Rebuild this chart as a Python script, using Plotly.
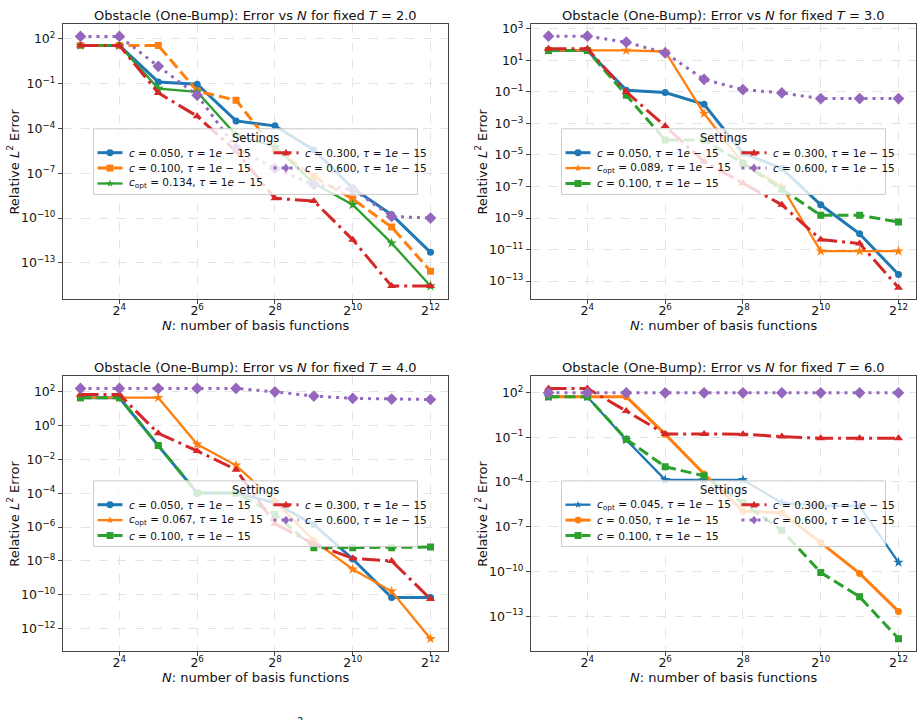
import math
import plotly.graph_objects as go

W, H = 923, 720

# ---------------- data ----------------
N = [8, 16, 32, 64, 128, 256, 512, 1024, 2048, 4096]
N_TICKVALS = [16, 64, 256, 1024, 4096]
N_TICKTEXT = ["2<sup>4</sup>", "2<sup>6</sup>", "2<sup>8</sup>", "2<sup>10</sup>", "2<sup>12</sup>"]
T_VALUES = ["2.0", "3.0", "4.0", "6.0"]

# T = 2.0
t2_labels = ["c050", "c100", "opt:0.134", "c300", "c600"]
t2_c050 = [36, 36, 1.3e-1, 9.1e-2, 3.2e-4, 1.5e-4, 3.6e-6, 1.0e-8, 1.7e-10, 5.1e-13]
t2_c100 = [36, 36, 36, 3.2e-2, 7.8e-3, 4.0e-6, 6.0e-8, 1.9e-9, 2.5e-11, 2.8e-14]
t2_copt = [36, 36, 4.7e-2, 2.8e-2, 3.6e-5, 6.0e-6, 2.1e-8, 7.8e-10, 2.1e-12, 2.8e-15]
t2_c300 = [36, 36, 2.4e-2, 6.6e-4, 3.0e-6, 2.1e-9, 1.4e-9, 3.6e-12, 2.8e-15, 2.8e-15]
t2_c600 = [145, 145, 1.45, 1.7e-2, 5.0e-6, 2.1e-7, 1.7e-8, 8.5e-9, 1.3e-10, 1.0e-10]

# T = 3.0
t3_labels = ["c050", "opt:0.089", "c100", "c300", "c600"]
t3_c050 = [43, 43, 1.3e-1, 9.1e-2, 1.66e-2, 1.3e-5, 1.4e-6, 6.9e-9, 1.0e-10, 2.6e-13]
t3_copt = [43, 43, 43, 37, 4.3e-3, 3.0e-6, 1.0e-7, 7.9e-12, 7.9e-12, 7.9e-12]
t3_c100 = [43, 43, 6.2e-2, 8.9e-5, 8.9e-5, 3.0e-6, 6.8e-8, 1.5e-9, 1.5e-9, 5.6e-10]
t3_c300 = [55, 55, 1.0e-1, 6.8e-4, 3.8e-6, 1.6e-7, 6.9e-9, 4.3e-11, 2.4e-11, 3.8e-14]
t3_c600 = [347, 347, 145, 30, 0.63, 0.14, 8.7e-2, 3.8e-2, 3.8e-2, 3.8e-2]

# T = 4.0
t4_labels = ["c050", "opt:0.067", "c100", "c300", "c600"]
t4_c050 = [45, 45, 6.6e-2, 1.05e-4, 1.05e-4, 2.7e-5, 1.4e-6, 1.3e-8, 6.9e-11, 6.9e-11]
t4_copt = [45, 45, 45, 7.9e-2, 4.5e-3, 3.4e-5, 1.6e-7, 3.2e-9, 1.6e-10, 2.5e-13]
t4_c100 = [45, 45, 6.6e-2, 1.05e-4, 1.05e-4, 5.6e-6, 6.0e-8, 6.0e-8, 6.0e-8, 6.6e-8]
t4_c300 = [69, 69, 0.35, 3.2e-2, 2.5e-3, 1.6e-6, 1.0e-7, 1.4e-8, 1.0e-8, 5.6e-11]
t4_c600 = [158, 158, 158, 158, 158, 100, 56, 41, 37, 35]

# T = 6.0
t6_labels = ["opt:0.045", "c050", "c100", "c300", "c600"]
t6_copt = [51, 51, 6.6e-2, 1.4e-4, 1.4e-4, 1.4e-4, 4.0e-6, 2.6e-6, 2.4e-6, 4.0e-10]
t6_c050 = [51, 51, 51, 0.16, 3.4e-4, 1.1e-6, 8.5e-7, 8.5e-9, 7.4e-11, 2.1e-13]
t6_c100 = [51, 51, 7.4e-2, 1.05e-3, 2.6e-4, 4.0e-6, 5.8e-8, 8.5e-11, 2.0e-12, 3.1e-15]
t6_c300 = [186, 186, 5.7, 0.166, 0.166, 0.16, 0.11, 8.5e-2, 8.5e-2, 8.5e-2]
t6_c600 = [95, 95, 95, 95, 95, 95, 95, 95, 95, 95]

PANELS = [
    (t2_labels, [t2_c050, t2_c100, t2_copt, t2_c300, t2_c600]),
    (t3_labels, [t3_c050, t3_copt, t3_c100, t3_c300, t3_c600]),
    (t4_labels, [t4_c050, t4_copt, t4_c100, t4_c300, t4_c600]),
    (t6_labels, [t6_copt, t6_c050, t6_c100, t6_c300, t6_c600]),
]

# y-axis ranges (log10) and tick exponents per panel
Y_RANGES = [(-15.44, 3.0), (-14.16, 3.32), (-13.35, 2.94), (-15.36, 3.11)]
Y_TICK_EXPS = [
    [2, -1, -4, -7, -10, -13],
    [3, 1, -1, -3, -5, -7, -9, -11, -13],
    [2, 0, -2, -4, -6, -8, -10, -12],
    [2, -1, -4, -7, -10, -13],
]

# ---------------- styles ----------------
COLORS = ["#1f77b4", "#ff7f0e", "#2ca02c", "#d62728", "#9467bd"]
KIND_STYLE = {
    "c050": dict(symbol="circle", dash="solid", size=7, width=3, name_c="0.050"),
    "c100": dict(symbol="square", dash="11px,5px", size=7, width=3, name_c="0.100"),
    "c300": dict(symbol="triangle-up", dash="18px,5px,3px,5px", size=8, width=3, name_c="0.300"),
    "c600": dict(symbol="diamond", dash="3px,5px", size=9, width=3, name_c="0.600"),
}
OPT_STYLE = dict(symbol="star", dash="solid", size=8, width=2.3)
FONT = "DejaVu Sans"
TXT = "#111111"

# panel pixel boxes: (x0, x1, ytop, ybottom)
BOXES = [(63, 448, 20, 297), (531, 916, 20, 297), (63, 448, 374, 651), (531, 916, 374, 651)]
LEG_W, LEG_H = 324, 66


def fx(px):
    return px / W


def fy(py):
    return 1 - py / H


def fmt_exp(e):
    return "10<sup>" + (str(e) if e >= 0 else "\u2212" + str(-e)) + "</sup>"


def style_for(lab):
    if lab.startswith("opt:"):
        cval = lab.split(":")[1]
        name = "<i>c</i><sub>opt</sub> = " + cval + ", <i>\u03c4</i> = 1<i>e</i> \u2212 15"
        return OPT_STYLE, name
    st = KIND_STYLE[lab]
    name = "<i>c</i> = " + st["name_c"] + ", <i>\u03c4</i> = 1<i>e</i> \u2212 15"
    return st, name


def marker_shape(symbol, cx, cy, size, color):
    r = size / 2.0
    if symbol == "circle":
        return dict(type="circle", xref="paper", yref="paper",
                    x0=fx(cx - r), x1=fx(cx + r), y0=fy(cy + r), y1=fy(cy - r),
                    fillcolor=color, line=dict(width=0), layer="above")
    if symbol == "square":
        pts = [(cx - r, cy - r), (cx + r, cy - r), (cx + r, cy + r), (cx - r, cy + r)]
    elif symbol == "diamond":
        pts = [(cx, cy - r), (cx + r * 0.75, cy), (cx, cy + r), (cx - r * 0.75, cy)]
    elif symbol == "triangle-up":
        pts = [(cx, cy - r), (cx + r * 0.95, cy + r * 0.7), (cx - r * 0.95, cy + r * 0.7)]
    else:  # star
        pts = []
        for k in range(10):
            ang = -math.pi / 2 + k * math.pi / 5
            rr = r if k % 2 == 0 else r * 0.4
            pts.append((cx + rr * math.cos(ang), cy + rr * math.sin(ang)))
    path = "M " + " L ".join("%.5f,%.5f" % (fx(a), fy(b)) for a, b in pts) + " Z"
    return dict(type="path", xref="paper", yref="paper", path=path,
                fillcolor=color, line=dict(width=0), layer="above")


fig = go.Figure()
annotations = []
shapes = []

for p, (labels, series) in enumerate(PANELS):
    ax = "" if p == 0 else str(p + 1)
    for i, (lab, vals) in enumerate(zip(labels, series)):
        st, name = style_for(lab)
        fig.add_trace(go.Scatter(
            x=N, y=vals, mode="lines+markers", name=name, showlegend=False,
            line=dict(color=COLORS[i], width=st["width"], dash=st["dash"]),
            marker=dict(symbol=st["symbol"], size=st["size"], color=COLORS[i],
                        line=dict(width=0)),
            xaxis="x" + ax, yaxis="y" + ax,
        ))

    x0, x1, yt, yb = BOXES[p]
    tickexps = Y_TICK_EXPS[p]
    common = dict(showline=True, linecolor="#444444", linewidth=1.2, mirror=True,
                  ticks="outside", ticklen=4, tickcolor="#444444",
                  showgrid=True, gridcolor="#e3e3e3", griddash="dash", gridwidth=0.8,
                  zeroline=False, tickfont=dict(family=FONT, size=12.5, color=TXT))
    fig.update_layout(**{
        "xaxis" + ax: dict(domain=[fx(x0), fx(x1)], type="log",
                           range=[2.55 * 0.30103, 12.45 * 0.30103],
                           tickvals=N_TICKVALS, ticktext=N_TICKTEXT,
                           ticklabelstandoff=-4,
                           anchor="y" + ax, **common),
        "yaxis" + ax: dict(domain=[fy(yb), fy(yt)], type="log",
                           range=list(Y_RANGES[p]),
                           tickvals=[10.0 ** e for e in tickexps],
                           ticktext=[fmt_exp(e) for e in tickexps],
                           anchor="x" + ax, **common),
    })

    cx = (x0 + x1) / 2
    cy = (yt + yb) / 2
    annotations.append(dict(
        text="Obstacle (One-Bump): Error vs <i>N</i> for fixed <i>T</i> = " + T_VALUES[p],
        x=fx(cx), y=fy(yt - 8), xref="paper", yref="paper", showarrow=False,
        xanchor="center", yanchor="middle", font=dict(family=FONT, size=13, color=TXT)))
    annotations.append(dict(
        text="<i>N</i>: number of basis functions",
        x=fx(cx), y=fy(yb + 26), xref="paper", yref="paper", showarrow=False,
        xanchor="center", yanchor="middle", font=dict(family=FONT, size=13, color=TXT)))
    annotations.append(dict(
        text="Relative <i>L</i><sup>2</sup> Error",
        x=fx(x0 - 50), y=fy(cy), xref="paper", yref="paper", showarrow=False,
        textangle=-90, xanchor="center", yanchor="middle",
        font=dict(family=FONT, size=13, color=TXT)))

    # ---- legend (matplotlib style, 2 columns, column-major) ----
    lx0 = cx - LEG_W / 2
    ly0 = cy - LEG_H / 2
    shapes.append(dict(type="rect", xref="paper", yref="paper",
                       x0=fx(lx0), x1=fx(lx0 + LEG_W), y0=fy(ly0 + LEG_H), y1=fy(ly0),
                       fillcolor="rgba(255,255,255,0.8)",
                       line=dict(color="#cccccc", width=1), layer="above"))
    annotations.append(dict(text="Settings", x=fx(cx), y=fy(ly0 + 9), xref="paper",
                            yref="paper", showarrow=False, xanchor="center",
                            yanchor="middle", font=dict(family=FONT, size=11.5, color=TXT)))
    row_off = [24, 39.5, 55]
    for i, lab in enumerate(labels):
        col = 0 if i < 3 else 1
        row = i if i < 3 else i - 3
        hx0 = lx0 + 4 + col * 176
        hx1 = hx0 + 25
        hy = ly0 + row_off[row]
        st, name = style_for(lab)
        shapes.append(dict(type="line", xref="paper", yref="paper",
                           x0=fx(hx0), x1=fx(hx1), y0=fy(hy), y1=fy(hy),
                           line=dict(color=COLORS[i], width=st["width"], dash=st["dash"]),
                           layer="above"))
        shapes.append(marker_shape(st["symbol"], (hx0 + hx1) / 2, hy, st["size"], COLORS[i]))
        annotations.append(dict(text=name, x=fx(hx1 + 4), y=fy(hy), xref="paper",
                                yref="paper", showarrow=False, xanchor="left",
                                yanchor="middle",
                                font=dict(family=FONT, size=10.5, color=TXT)))

# stray clipped glyph at the very bottom
annotations.append(dict(text="2", x=fx(300), y=fy(714), xref="paper", yref="paper",
                        showarrow=False, xanchor="center", yanchor="top",
                        font=dict(family=FONT, size=10, color=TXT)))

fig.update_layout(
    width=W, height=H, margin=dict(l=0, r=0, t=0, b=0),
    paper_bgcolor="white", plot_bgcolor="white",
    font=dict(family=FONT, color=TXT),
    annotations=annotations, shapes=shapes, showlegend=False,
)

fig.write_html("out.html")
